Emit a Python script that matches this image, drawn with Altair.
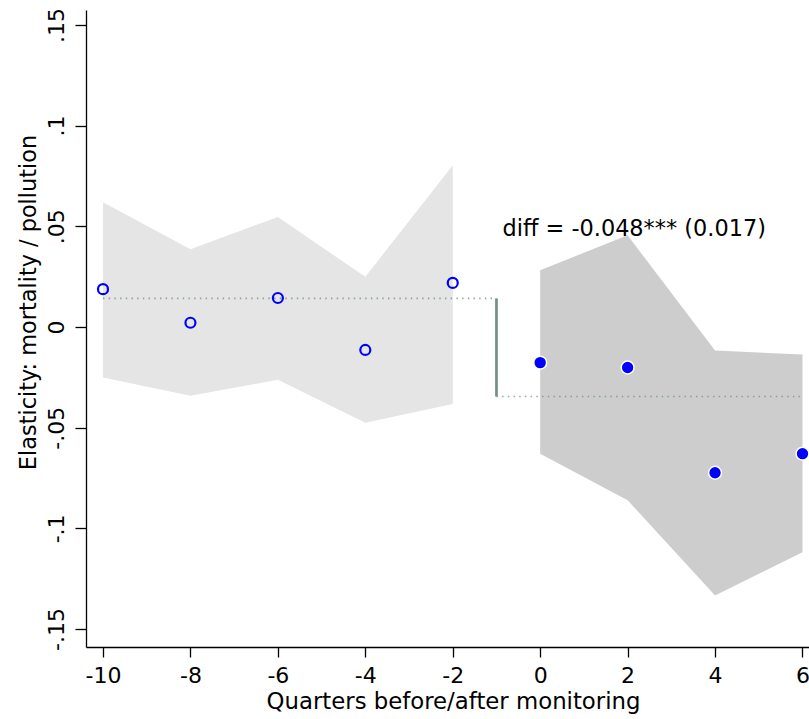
import altair as alt
import pandas as pd

# ---- data ----
pre_q = [-10, -8, -6, -4, -2]
pre_est = [0.0188, 0.0021, 0.0144, -0.0114, 0.0219]
pre_hi = [0.0620, 0.0386, 0.0546, 0.0249, 0.0803]
pre_lo = [-0.0251, -0.0342, -0.0262, -0.0475, -0.0383]

post_q = [0, 2, 4, 6]
post_est = [-0.0177, -0.0201, -0.0724, -0.0629]
post_hi = [0.0282, 0.0455, -0.0117, -0.0137]
post_lo = [-0.0629, -0.0860, -0.1333, -0.1119]

pre_mean = 0.0142
post_mean = -0.0345
mean_x = [-10, -1, 6]          # pre line from -10 to -1, post from -1 to 6
diff_label = "diff = -0.048*** (0.017)"
diff_pos = [-0.86, 0.0452]

y_ticks = [-0.15, -0.1, -0.05, 0, 0.05, 0.1, 0.15]
x_ticks = [-10, -8, -6, -4, -2, 0, 2, 4, 6]

FONT = "DejaVu Sans"
LINE = "#6f9282"

pre = pd.DataFrame({"q": pre_q, "est": pre_est, "hi": pre_hi, "lo": pre_lo})
post = pd.DataFrame({"q": post_q, "est": post_est, "hi": post_hi, "lo": post_lo})
means = pd.DataFrame({
    "x": [mean_x[0], mean_x[1]],
    "x2": [mean_x[1], mean_x[2]],
    "y": [pre_mean, post_mean],
})
vrule = pd.DataFrame({"x": [mean_x[1]], "y": [pre_mean], "y2": [post_mean]})
txt = pd.DataFrame({"x": [diff_pos[0]], "y": [diff_pos[1]], "t": [diff_label]})

xscale = alt.Scale(domain=[-10.389, 6.149], nice=False, zero=False)
yscale = alt.Scale(domain=[-0.1589, 0.1574], nice=False, zero=False)

xaxis = alt.Axis(
    values=x_ticks, title="Quarters before/after monitoring", grid=False,
    labelExpr="(datum.value < 0 ? '-' : '') + format(abs(datum.value), 'd')",
    labelFont=FONT, labelFontSize=22, labelColor="black", labelPadding=8,
    labelBaseline="top", tickSize=10, tickColor="black", tickWidth=1.3,
    domainColor="black", domainWidth=1.3, labelFlush=False, labelOverlap=False,
    titleFont=FONT, titleFontSize=22.8, titleFontWeight="normal", titleColor="black",
    titleBaseline="alphabetic", titleY=61, titleX=367, titleAlign="center",
)
yaxis = alt.Axis(
    values=y_ticks, title="Elasticity: mortality / pollution", grid=False,
    labelExpr="datum.value == 0 ? '0' : (datum.value < 0 ? '-' : '') + replace(format(abs(datum.value), '.2~f'), '0.', '.')",
    labelFont=FONT, labelFontSize=22, labelColor="black", labelAngle=270,
    labelAlign="center", labelBaseline="alphabetic", labelPadding=12,
    tickSize=11, tickColor="black", tickWidth=1.3,
    domainColor="black", domainWidth=1.3, labelFlush=False, labelOverlap=False,
    titleFont=FONT, titleFontSize=22.4, titleFontWeight="normal", titleColor="black",
    titleAngle=270, titleBaseline="middle", titleAlign="center",
    titleX=-58, titleY=292,
)

pre_area = alt.Chart(pre).mark_area(color="#e5e5e5", opacity=1).encode(
    x=alt.X("q:Q", scale=xscale, axis=xaxis),
    y=alt.Y("hi:Q", scale=yscale, axis=yaxis),
    y2="lo:Q",
)
post_area = alt.Chart(post).mark_area(color="#cdcdcd", opacity=1, clip=True).encode(
    x=alt.X("q:Q", scale=xscale),
    y=alt.Y("hi:Q", scale=yscale),
    y2="lo:Q",
)
mean_lines = alt.Chart(means).mark_rule(
    color=LINE, strokeWidth=1.6, strokeDash=[1.4, 4.3], opacity=0.8
).encode(
    x=alt.X("x:Q", scale=xscale), x2="x2:Q", y=alt.Y("y:Q", scale=yscale)
)
diff_rule = alt.Chart(vrule).mark_rule(color=LINE, strokeWidth=2.7).encode(
    x=alt.X("x:Q", scale=xscale), y=alt.Y("y:Q", scale=yscale), y2="y2:Q"
)
pre_pts = alt.Chart(pre).mark_point(
    shape="circle", filled=False, color="#0000ff", size=100, strokeWidth=2.2, opacity=1
).encode(x=alt.X("q:Q", scale=xscale), y=alt.Y("est:Q", scale=yscale))
post_pts = alt.Chart(post).mark_point(
    shape="circle", filled=True, fill="#0000ff", stroke="white", size=165,
    strokeWidth=1.5, opacity=1, clip=True
).encode(x=alt.X("q:Q", scale=xscale), y=alt.Y("est:Q", scale=yscale))
label = alt.Chart(txt).mark_text(
    font=FONT, fontSize=22.4, color="black", align="left", baseline="alphabetic"
).encode(x=alt.X("x:Q", scale=xscale), y=alt.Y("y:Q", scale=yscale), text="t:N")

chart = alt.layer(
    pre_area, post_area, mean_lines, diff_rule, pre_pts, post_pts, label
).properties(
    width=723, height=637,
    autosize=alt.AutoSizeParams(type="none"),
    padding={"left": 86, "top": 10, "right": 0, "bottom": 72},
    background="white",
).configure_view(stroke=None)

chart.save("out.html", embed_options={"renderer": "svg", "actions": False})
